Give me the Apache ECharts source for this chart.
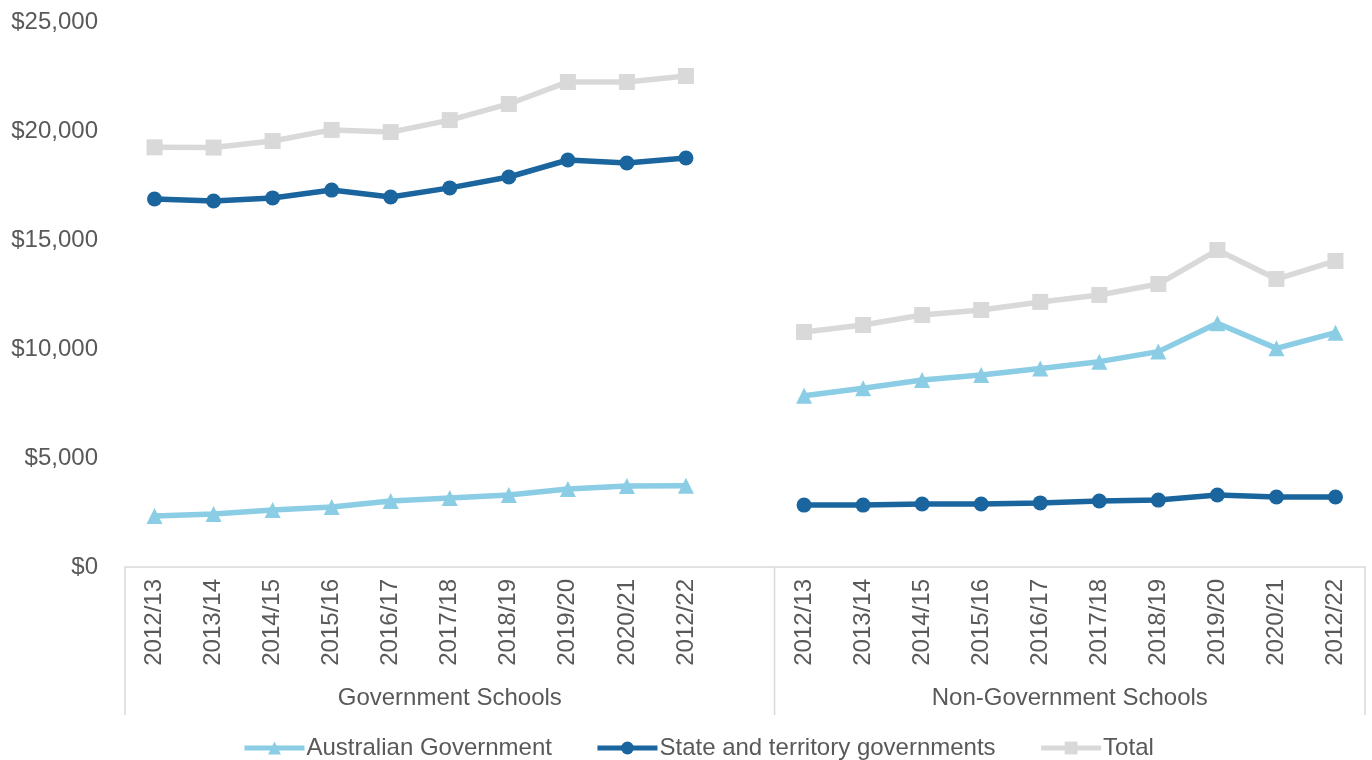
<!DOCTYPE html>
<html>
<head>
<meta charset="utf-8">
<script src="https://cdn.jsdelivr.net/npm/echarts@6/dist/echarts.min.js"></script>
<style>html,body{margin:0;padding:0;background:#fff}#c{width:1372px;height:760px}</style>
</head>
<body>
<div id="c"></div>
<script>
var govYears = ['2012/13','2013/14','2014/15','2015/16','2016/17','2017/18','2018/19','2019/20','2020/21','2012/22'];
var nonGovYears = ['2012/13','2013/14','2014/15','2015/16','2016/17','2017/18','2018/19','2019/20','2020/21','2012/22'];
var groupNames = ['Government Schools', 'Non-Government Schools'];
var seriesNames = ['Australian Government', 'State and territory governments', 'Total'];

var govAustralian = [2340, 2430, 2610, 2750, 3030, 3170, 3300, 3580, 3720, 3730];
var govState = [16880, 16790, 16930, 17290, 16970, 17390, 17890, 18670, 18530, 18760];
var govTotal = [19250, 19240, 19540, 20050, 19950, 20500, 21240, 22250, 22250, 22520];

var nonGovAustralian = [7860, 8200, 8580, 8810, 9110, 9420, 9880, 11180, 10030, 10750];
var nonGovState = [2840, 2840, 2890, 2890, 2940, 3030, 3070, 3300, 3210, 3210];
var nonGovTotal = [10780, 11100, 11560, 11790, 12160, 12480, 12980, 14540, 13210, 14040];

var yTicks = [0, 5000, 10000, 15000, 20000, 25000];

var categories = govYears.concat(['']).concat(nonGovYears);
function join(a, b) { return a.concat(['-']).concat(b); }

var colors = ['#8ACDE4', '#1A659E', '#D9D9D9'];
var symbols = ['triangle', 'circle', 'rect'];
var symbolSizes = [16, 15, 16];
var datas = [join(govAustralian, nonGovAustralian), join(govState, nonGovState), join(govTotal, nonGovTotal)];

var txt = '#595959';
var font = 'Liberation Sans, Arial, sans-serif';

var chart = echarts.init(document.getElementById('c'), null, {renderer: 'canvas'});
var option = {
  animation: false,
  color: colors,
  grid: {left: 125, right: 7, top: 22, bottom: 193, containLabel: false},
  xAxis: {
    type: 'category',
    data: categories,
    boundaryGap: true,
    axisLine: {show: true, lineStyle: {color: '#D9D9D9', width: 1.5}},
    axisTick: {show: false},
    axisLabel: {rotate: 90, fontSize: 24, color: txt, fontFamily: font, margin: 12, interval: 0}
  },
  yAxis: {
    type: 'value',
    min: yTicks[0],
    max: yTicks[yTicks.length - 1],
    interval: yTicks[1] - yTicks[0],
    axisLine: {show: false},
    axisTick: {show: false},
    splitLine: {show: false},
    axisLabel: {
      fontSize: 24, color: txt, fontFamily: font, margin: 27,
      formatter: function (v) { return '$' + v.toLocaleString('en-US'); }
    }
  },
  legend: {
    left: 237,
    top: 731,
    itemWidth: 60,
    itemHeight: 16,
    itemGap: 43,
    lineStyle: {width: 5},
    textStyle: {fontSize: 24, color: txt, fontFamily: font, padding: [0, 0, 0, -3]},
    data: seriesNames
  },
  series: seriesNames.map(function (n, i) {
    return {
      name: n,
      type: 'line',
      data: datas[i],
      symbol: symbols[i],
      symbolSize: symbolSizes[i],
      showAllSymbol: true,
      connectNulls: false,
      lineStyle: {width: 5.5, color: colors[i]},
      itemStyle: {color: colors[i]},
      z: i === 2 ? 1 : 2
    };
  })
};
chart.setOption(option);

// group separators and group labels derived from the axis
var c0 = chart.convertToPixel({gridIndex: 0}, [0, 0]);
var c1 = chart.convertToPixel({gridIndex: 0}, [1, 0]);
var bw = c1[0] - c0[0];
function boundary(i) { return chart.convertToPixel({gridIndex: 0}, [i, 0])[0] - bw / 2; }
var y0 = c0[1];
var b0 = boundary(0), b1 = boundary(govYears.length + 1), b2 = boundary(categories.length - 1) + bw;
var lineLen = 148;
var graphics = [b0, b1, b2].map(function (x) {
  return {type: 'line', shape: {x1: x, y1: y0, x2: x, y2: y0 + lineLen}, style: {stroke: '#D9D9D9', lineWidth: 1.5}, silent: true};
});
graphics.push({type: 'text', x: (b0 + b1) / 2, y: y0 + 131, style: {text: groupNames[0], fill: txt, font: '24px ' + font, textAlign: 'center', textVerticalAlign: 'middle'}});
graphics.push({type: 'text', x: (b1 + b2) / 2, y: y0 + 131, style: {text: groupNames[1], fill: txt, font: '24px ' + font, textAlign: 'center', textVerticalAlign: 'middle'}});
chart.setOption({graphic: graphics});
</script>
</body>
</html>
